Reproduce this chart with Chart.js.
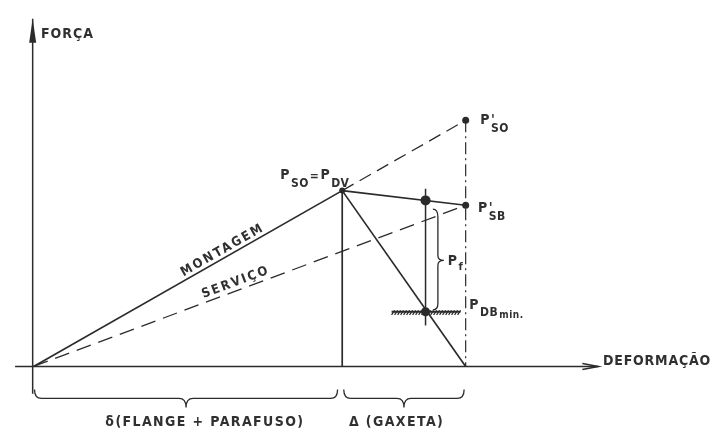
<!DOCTYPE html>
<html>
<head>
<meta charset="utf-8">
<script src="https://cdn.jsdelivr.net/npm/chart.js@4.4.1/dist/chart.umd.min.js"></script>
<style>
  html, body { margin: 0; padding: 0; background: #fff; }
  canvas { display: block; }
</style>
</head>
<body>
<canvas id="diagrama" width="715" height="434"></canvas>
<script>
// força (y) x deformação (x), unidades arbitrárias
const montagem = [{x: 0, y: 0}, {x: 10, y: 9}];
const montagemProlongada = [{x: 10, y: 9}, {x: 14, y: 12.6}];
const servico = [{x: 0, y: 0}, {x: 14, y: 8.25}];
const cargaServico = [{x: 10, y: 9}, {x: 14, y: 8.25}];
const gaxeta = [{x: 10, y: 9}, {x: 14, y: 0}];
const flange = [{x: 10, y: 9}, {x: 10, y: 0}];
const limite = [{x: 14, y: 12.6}, {x: 14, y: 0}];
const forcaGaxeta = [{x: 12.7, y: 9.1}, {x: 12.7, y: 2.1}];
// P_SO=P_DV, P'_SO, P'_SB, ponto intermediário, P_DB min.
const pontos = [{x: 10, y: 9}, {x: 14, y: 12.6}, {x: 14, y: 8.25}, {x: 12.7, y: 8.5}, {x: 12.7, y: 2.8}];
const eixoX = [{x: -0.6, y: 0}, {x: 18.3, y: 0}];
const eixoY = [{x: -0.03, y: -1.4}, {x: -0.03, y: 17.8}];
const trechos = [[0.03, 9.85], [10.05, 13.95]];
const rotulosTrechos = ['δ(FLANGE + PARAFUSO)', 'Δ (GAXETA)'];
const rotulosEixos = ['FORÇA', 'DEFORMAÇÃO'];
const rotulosRetas = ['MONTAGEM', 'SERVIÇO'];

const TINTA = '#2b2b2b';
const FONTE = '"DejaVu Sans Condensed", "DejaVu Sans", sans-serif';

const reta = (data, extra) => Object.assign({
  data, showLine: true, pointRadius: 0, borderColor: TINTA, borderWidth: 1.7, fill: false
}, extra || {});

// texto com índices: partes = [texto, tamanho, deslocamento vertical, avança?]
function escreve(ctx, partes, x, y) {
  let cx = x;
  partes.forEach(([t, tam, dy, avanca]) => {
    ctx.font = `bold ${tam}px ${FONTE}`;
    ctx.fillText(t, cx, y + dy);
    if (avanca !== false) cx += ctx.measureText(t).width + 1;
  });
}

function chave(ctx, a, b, y0, y1, y2) {
  // chave horizontal: pontas em y0, corpo em y1, bico em y2
  const m = (a + b) / 2, r = 7;
  ctx.beginPath();
  ctx.moveTo(a, y0);
  ctx.quadraticCurveTo(a, y1, a + r, y1);
  ctx.lineTo(m - r, y1);
  ctx.quadraticCurveTo(m, y1, m, y2);
  ctx.quadraticCurveTo(m, y1, m + r, y1);
  ctx.lineTo(b - r, y1);
  ctx.quadraticCurveTo(b, y1, b, y0);
  ctx.stroke();
}

const desenho = {
  id: 'desenho',
  afterDatasetsDraw(chart) {
    const {ctx, scales: {x, y}} = chart;
    const px = v => x.getPixelForValue(v);
    const py = v => y.getPixelForValue(v);
    ctx.save();
    ctx.strokeStyle = TINTA;
    ctx.fillStyle = TINTA;
    ctx.lineWidth = 1.5;

    // ponta do eixo de força
    const yt = eixoY[1];
    ctx.beginPath();
    ctx.moveTo(px(yt.x), py(yt.y));
    ctx.lineTo(px(yt.x) - 3.5, py(yt.y) + 24);
    ctx.lineTo(px(yt.x) + 3.5, py(yt.y) + 24);
    ctx.closePath();
    ctx.fill();

    // ponta do eixo de deformação
    const xt = eixoX[1];
    ctx.beginPath();
    ctx.moveTo(px(xt.x) - 16, py(xt.y) - 3);
    ctx.lineTo(px(xt.x), py(xt.y));
    ctx.lineTo(px(xt.x) - 16, py(xt.y) + 3);
    ctx.stroke();

    // apoio hachurado sob P_DB min.
    const pdb = pontos[4];
    const h0 = px(11.6), h1 = px(13.83), hy = py(pdb.y);
    ctx.lineWidth = 1.8;
    ctx.beginPath();
    ctx.moveTo(h0, hy); ctx.lineTo(h1, hy);
    ctx.stroke();
    ctx.lineWidth = 1.3;
    ctx.beginPath();
    for (let hx = h0; hx < h1 - 2; hx += 3) {
      ctx.moveTo(hx, hy + 3); ctx.lineTo(hx + 3, hy - 1.5);
    }
    ctx.stroke();

    // chave vertical de P_f
    const fx = px(13.1), fa = py(7.85), fb = py(3.0), fm = (fa + fb) / 2;
    ctx.lineWidth = 1.3;
    ctx.beginPath();
    ctx.moveTo(fx - 5, fa - 4);
    ctx.quadraticCurveTo(fx, fa - 4, fx, fa + 4);
    ctx.lineTo(fx, fm - 5);
    ctx.quadraticCurveTo(fx, fm, fx + 6, fm);
    ctx.quadraticCurveTo(fx, fm, fx, fm + 5);
    ctx.lineTo(fx, fb - 4);
    ctx.quadraticCurveTo(fx, fb + 2, fx - 5, fb + 2);
    ctx.stroke();

    // chaves sob o eixo de deformação
    const y0 = py(0);
    trechos.forEach(([a, b]) => chave(ctx, px(a), px(b), y0 + 23, y0 + 32, y0 + 41));

    ctx.textBaseline = 'alphabetic';
    ctx.textAlign = 'left';
    ctx.fillStyle = '#303030';
    ctx.letterSpacing = '1px';

    // rótulos dos eixos
    ctx.font = `bold 14px ${FONTE}`;
    ctx.fillText(rotulosEixos[0], px(0.24), py(16.8));
    ctx.letterSpacing = '0.8px';
    ctx.fillText(rotulosEixos[1], px(18.45), py(0.05));

    // rótulos dos trechos
    ctx.textAlign = 'center';
    ctx.font = `bold 14px ${FONTE}`;
    ctx.letterSpacing = '1.4px';
    ctx.fillText(rotulosTrechos[0], px(5.55), py(-3.05));
    ctx.fillText(rotulosTrechos[1], px(11.76), py(-3.05));

    // rótulos ao longo das retas
    [[montagem, rotulosRetas[0], 6.13, 5.95, 2.2], [servico, rotulosRetas[1], 6.55, 4.3, 2]]
      .forEach(([linha, texto, cxv, cyv, esp]) => {
        const ang = Math.atan2(py(linha[1].y) - py(linha[0].y), px(linha[1].x) - px(linha[0].x));
        ctx.save();
        ctx.translate(px(cxv), py(cyv));
        ctx.rotate(ang);
        ctx.textBaseline = 'middle';
        ctx.letterSpacing = esp + 'px';
        ctx.font = `bold 13px ${FONTE}`;
        ctx.fillText(texto, 0, 0);
        ctx.restore();
      });

    // rótulos dos pontos
    ctx.textAlign = 'left';
    ctx.letterSpacing = '0.5px';
    escreve(ctx, [['P', 14, 0], ['SO', 12, 8], ['=', 12, 1], ['P', 14, 0], ['DV', 12, 8]], px(7.99), py(9.6));
    escreve(ctx, [['P', 14, 0], ["'", 14, 0, false], ['SO', 12, 8]], px(14.47), py(12.4));
    escreve(ctx, [['P', 14, 0], ["'", 14, 0, false], ['SB', 12, 8]], px(14.4), py(7.9));
    escreve(ctx, [['P', 14, 0], ['DB', 12, 7], ['min.', 10, 9]], px(14.12), py(2.95));
    escreve(ctx, [['P', 14, 0], ['f', 11, 5]], px(13.42), py(5.2));

    ctx.restore();
  }
};

new Chart(document.getElementById('diagrama'), {
  type: 'scatter',
  data: {
    datasets: [
      reta(eixoX, {borderWidth: 1.5}),
      reta(eixoY, {borderWidth: 1.5}),
      reta(montagem),
      reta(montagemProlongada, {borderWidth: 1.3, borderDash: [13, 7]}),
      reta(servico, {borderWidth: 1.3, borderDash: [15, 8]}),
      reta(cargaServico),
      reta(gaxeta),
      reta(flange),
      reta(limite, {borderWidth: 1.2, borderDash: [12, 4, 2, 4]}),
      reta(forcaGaxeta, {borderWidth: 1.5}),
      {
        data: pontos,
        showLine: false,
        pointRadius: [3, 3.5, 3.5, 5, 4.5],
        pointBackgroundColor: TINTA,
        pointBorderWidth: 0
      }
    ]
  },
  options: {
    responsive: false,
    animation: false,
    layout: {padding: 0},
    plugins: {legend: {display: false}, tooltip: {enabled: false}},
    scales: {
      x: {type: 'linear', min: -29 / 31.3, max: 686 / 31.3, display: false},
      y: {type: 'linear', min: -3.2, max: 18.5, display: false}
    }
  },
  plugins: [desenho]
});
</script>
</body>
</html>
